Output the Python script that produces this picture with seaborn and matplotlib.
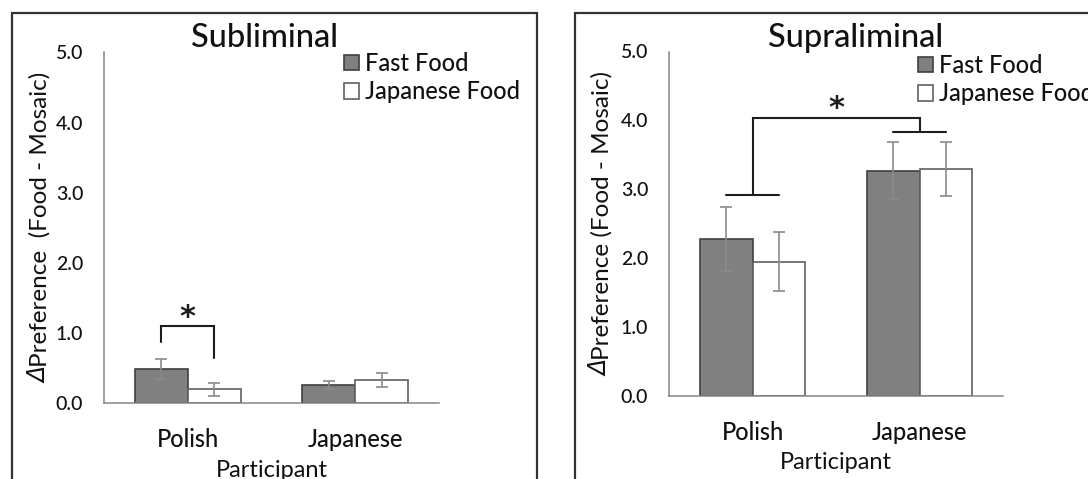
import matplotlib
matplotlib.use('Agg')
import matplotlib.pyplot as plt
import seaborn as sns
import pandas as pd
from matplotlib.patches import Rectangle, Patch
from matplotlib.transforms import IdentityTransform

# ---------------- data ----------------
participants = ['Polish', 'Japanese']
food_types = ['Fast Food', 'Japanese Food']

sub_fast = [0.49, 0.26]
sub_fast_err = [0.14, 0.06]
sub_jfood = [0.20, 0.33]
sub_jfood_err = [0.095, 0.095]

sup_fast = [2.28, 3.27]
sup_fast_err = [0.47, 0.41]
sup_jfood = [1.95, 3.29]
sup_jfood_err = [0.43, 0.39]

y_ticks = [0.0, 1.0, 2.0, 3.0, 4.0, 5.0]

panel_titles = ['Subliminal', 'Supraliminal']
delta_sign = 'Δ'
y_labels = ['Preference  (Food - Mosaic)',
            'Preference (Food - Mosaic)']
x_label = 'Participant'

# significance annotation levels (data units)
sub_bracket_top = 1.10
sub_bracket_left_end = 0.88
sub_bracket_right_end = 0.65
sub_star_y = 1.22
sup_polish_bar = 2.92
sup_japanese_bar = 3.83
sup_bracket_top = 4.03
sup_star_y = 4.17

# ---------------- style ----------------
sns.set_style('white')
plt.rcParams['font.family'] = ['Lato', 'DejaVu Sans']
plt.rcParams['font.weight'] = 'medium'

W, H = 1088, 479
fig = plt.figure(figsize=(W / 100, H / 100), dpi=100)

def fx(px):
    return px / W

def fy(py):
    return 1 - py / H

ax_l = fig.add_axes([fx(104), fy(403.3), fx(439) - fx(104), fy(52.3) - fy(403.3)])
ax_r = fig.add_axes([fx(669), fy(396), fx(1003) - fx(669), fy(51.5) - fy(396)])

FAST_C = '#808080'
FAST_EC = '#404040'
JF_EC = '#606060'
AXIS_C = '#868686'
ERR_C = '#8a8a8a'
LINE_C = '#1e1e1e'
TXT_C = '#111111'
YLABEL_FS = 17.5

def make_df(fast, jfood):
    rows = []
    for p, v in zip(participants, fast):
        rows.append({'Participant': p, 'Food': food_types[0], 'Value': v})
    for p, v in zip(participants, jfood):
        rows.append({'Participant': p, 'Food': food_types[1], 'Value': v})
    return pd.DataFrame(rows)

def draw_panel(ax, fast, fast_err, jfood, jfood_err, ylabel, ylabel_x):
    df = make_df(fast, jfood)
    sns.barplot(data=df, x='Participant', y='Value', hue='Food',
                order=participants, hue_order=food_types,
                palette={food_types[0]: FAST_C, food_types[1]: '#ffffff'},
                width=0.63, errorbar=None, legend=False, ax=ax,
                linewidth=1.2)
    edge_cols = [FAST_EC, JF_EC]
    errs = [fast_err, jfood_err]
    centers = []
    for cont, ec, err in zip(ax.containers, edge_cols, errs):
        xs, ys = [], []
        for bar in cont:
            bar.set_edgecolor(ec)
            bar.set_linewidth(1.2)
            xs.append(bar.get_x() + bar.get_width() / 2)
            ys.append(bar.get_height())
        centers.append(xs)
        ax.errorbar(xs, ys, yerr=err, fmt='none', ecolor=ERR_C,
                    elinewidth=1.2, capsize=4, capthick=1.2, zorder=5)
    ax.set_xlim(-0.5, 1.5)
    ax.set_ylim(0, 5)
    ax.set_yticks(y_ticks)
    ax.set_yticklabels([f'{v:.1f}' for v in y_ticks])
    ax.tick_params(axis='y', direction='in', length=5, width=1,
                   color=AXIS_C, pad=15, labelsize=14, labelcolor=TXT_C)
    ax.tick_params(axis='x', which='major', length=0, pad=18,
                   labelsize=17, labelcolor=TXT_C)
    ax.set_xticks([0.5, 1.5], minor=True)
    ax.tick_params(axis='x', which='minor', direction='in', length=6,
                   width=1, color=AXIS_C)
    for s in ['top', 'right']:
        ax.spines[s].set_visible(False)
    for s in ['left', 'bottom']:
        ax.spines[s].set_color(AXIS_C)
        ax.spines[s].set_linewidth(1.1)
    ax.set_xlabel(x_label, fontsize=17, labelpad=6, color=TXT_C)
    ax.set_ylabel(ylabel, fontsize=YLABEL_FS, color=TXT_C)
    ax.yaxis.set_label_coords(ylabel_x, 0.5)
    ax.set_facecolor('none')
    return centers

ylabel_xs = [-0.158, -0.168]
c_l = draw_panel(ax_l, sub_fast, sub_fast_err, sub_jfood, sub_jfood_err,
                 y_labels[0], ylabel_xs[0])
c_r = draw_panel(ax_r, sup_fast, sup_fast_err, sup_jfood, sup_jfood_err,
                 y_labels[1], ylabel_xs[1])

# ---- significance: subliminal (within Polish) ----
xl, xr = c_l[0][0], c_l[1][0]
ax_l.plot([xl, xl, xr, xr],
          [sub_bracket_left_end, sub_bracket_top, sub_bracket_top, sub_bracket_right_end],
          color=LINE_C, lw=1.5, solid_joinstyle='miter', zorder=6)
ax_l.text((xl + xr) / 2, sub_star_y, '*', ha='center', va='center',
          fontsize=22, family='DejaVu Sans', fontweight='bold', color=LINE_C)

# ---- significance: supraliminal (Polish vs Japanese participants) ----
p_lo, p_hi = c_r[0][0], c_r[1][0]
j_lo, j_hi = c_r[0][1], c_r[1][1]
p_mid = (p_lo + p_hi) / 2
j_mid = (j_lo + j_hi) / 2
ax_r.plot([p_lo, p_hi], [sup_polish_bar, sup_polish_bar], color=LINE_C, lw=1.5, zorder=6)
ax_r.plot([j_lo, j_hi], [sup_japanese_bar, sup_japanese_bar], color=LINE_C, lw=1.5, zorder=6)
ax_r.plot([p_mid, p_mid, j_mid, j_mid],
          [sup_polish_bar, sup_bracket_top, sup_bracket_top, sup_japanese_bar],
          color=LINE_C, lw=1.5, solid_joinstyle='miter', zorder=6)
ax_r.text((p_mid + j_mid) / 2, sup_star_y, '*', ha='center', va='center',
          fontsize=22, family='DejaVu Sans', fontweight='bold', color=LINE_C)

# ---- titles ----
fig.text(fx(264), fy(47), panel_titles[0], ha='center', va='baseline',
         fontsize=23.5, color=TXT_C)
fig.text(fx(856), fy(47), panel_titles[1], ha='center', va='baseline',
         fontsize=23.5, color=TXT_C)

# ---- legends ----
def add_legend(ax, x_px, y_px):
    handles = [Patch(facecolor=FAST_C, edgecolor=FAST_EC, linewidth=1.2),
               Patch(facecolor='white', edgecolor=JF_EC, linewidth=1.2)]
    ax.legend(handles=handles, labels=food_types, loc='upper left',
              bbox_to_anchor=(fx(x_px), fy(y_px)), bbox_transform=fig.transFigure,
              frameon=False, fontsize=17, handlelength=0.62, handleheight=0.62,
              handletextpad=0.25, labelspacing=0.22, borderpad=0,
              borderaxespad=0, labelcolor=TXT_C)

add_legend(ax_l, 344, 52)
add_legend(ax_r, 918, 54)

# ---- italic delta in front of the y labels ----
fig.canvas.draw()
renderer = fig.canvas.get_renderer()
for ax, lx in zip([ax_l, ax_r], ylabel_xs):
    d = fig.text(0, 0, delta_sign, rotation=90, rotation_mode='anchor',
                 ha='right', va='bottom', fontsize=YLABEL_FS - 0.5,
                 family='DejaVu Sans', fontstyle='oblique', color=TXT_C,
                 transform=IdentityTransform())
    dh = d.get_window_extent(renderer).height
    ax_h = ax.get_window_extent(renderer).height
    ax.yaxis.set_label_coords(lx, 0.5 + (dh / 2) / ax_h)
    fig.canvas.draw()
    lab_bb = ax.yaxis.label.get_window_extent(renderer)
    x_disp = ax.transAxes.transform((lx, 0.5))[0]
    d.set_position((x_disp, lab_bb.y0))

# ---- panel frames ----
fig.add_artist(Rectangle((fx(11.5), -0.2), fx(536.5) - fx(11.5), fy(12.7) + 0.2,
                         transform=fig.transFigure, fill=False, lw=1.6,
                         edgecolor='#333333'))
fig.add_artist(Rectangle((fx(574.5), -0.2), 0.6, fy(12.7) + 0.2,
                         transform=fig.transFigure, fill=False, lw=1.6,
                         edgecolor='#333333'))

fig.savefig('out.png', dpi=100, facecolor='white')
